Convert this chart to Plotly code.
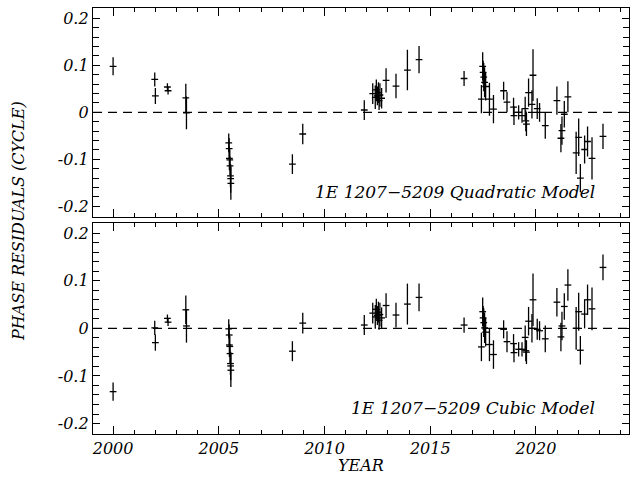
import plotly.graph_objects as go

# ---------------- data ----------------
years = [2000.00, 2001.97, 2002.00, 2002.57, 2002.60, 2003.44, 2003.47,
         2005.47, 2005.49, 2005.50, 2005.52, 2005.53, 2005.55, 2005.56, 2005.57,
         2008.48, 2008.97, 2011.88,
         2012.28, 2012.40, 2012.45, 2012.50, 2012.55, 2012.58, 2012.62, 2012.70,
         2012.91, 2013.38, 2013.92, 2014.47, 2016.60,
         2017.42, 2017.48, 2017.50, 2017.53, 2017.57, 2017.62,
         2017.80, 2017.99, 2018.47, 2018.63, 2018.94, 2018.96, 2019.18, 2019.34,
         2019.49, 2019.52, 2019.55, 2019.65, 2019.81, 2019.86, 2020.06, 2020.17,
         2020.44, 2020.99, 2021.18, 2021.23, 2021.34, 2021.51, 2021.90, 2022.02,
         2022.10, 2022.30, 2022.44, 2022.65, 2023.17]

quadratic_resid = [0.098, 0.070, 0.035, 0.054, 0.046, 0.031, -0.001,
                   -0.065, -0.077, -0.098, -0.101, -0.114, -0.135, -0.141, -0.151,
                   -0.110, -0.046, 0.005,
                   0.040, 0.032, 0.048, 0.035, 0.042, 0.025, 0.037, 0.030,
                   0.068, 0.056, 0.090, 0.112, 0.072,
                   0.028, 0.098, 0.085, 0.075, 0.064, 0.055,
                   0.028, 0.007, 0.046, 0.022, 0.011, -0.007, 0.000, -0.007,
                   0.008, -0.018, -0.025, 0.042, 0.017, 0.079, 0.008, 0.000,
                   -0.028, 0.025, -0.055, -0.039, -0.004, 0.033, -0.086, -0.053,
                   -0.140, -0.079, -0.062, -0.098, -0.051]

cubic_resid = [-0.133, 0.001, -0.030, 0.021, 0.013, 0.039, 0.005,
               -0.001, -0.014, -0.035, -0.038, -0.053, -0.074, -0.079, -0.088,
               -0.048, 0.011, 0.007,
               0.032, 0.024, 0.040, 0.027, 0.034, 0.017, 0.029, 0.022,
               0.048, 0.028, 0.051, 0.065, 0.007,
               -0.039, 0.035, 0.022, 0.012, 0.001, -0.008,
               -0.034, -0.055, -0.002, -0.028, -0.032, -0.051, -0.044, -0.044,
               -0.019, -0.047, -0.050, 0.015, 0.000, 0.060, -0.002, -0.005,
               -0.022, 0.055, -0.018, 0.005, 0.046, 0.091, 0.000, 0.035,
               -0.046, 0.030, 0.060, 0.041, 0.128]

resid_err = [0.019, 0.015, 0.017, 0.008, 0.008, 0.030, 0.035,
             0.020, 0.022, 0.025, 0.022, 0.020, 0.024, 0.030, 0.035,
             0.021, 0.022, 0.021,
             0.022, 0.025, 0.022, 0.020, 0.022, 0.020, 0.025, 0.022,
             0.026, 0.026, 0.043, 0.029, 0.016,
             0.030, 0.030, 0.025, 0.030, 0.032, 0.030,
             0.035, 0.030, 0.019, 0.022, 0.020, 0.020, 0.015, 0.015,
             0.025, 0.022, 0.025, 0.030, 0.030, 0.055, 0.022, 0.020,
             0.028, 0.030, 0.030, 0.030, 0.028, 0.033, 0.045, 0.040,
             0.030, 0.030, 0.032, 0.045, 0.027]

year_halfwidth = 0.16
x_ticks = [2000, 2005, 2010, 2015, 2020]
y_ticks = [-0.2, -0.1, 0, 0.1, 0.2]
y_tick_text = ["-0.2", "-0.1", "0", "0.1", "0.2"]
labels = ["1E 1207\u22125209 Quadratic Model", "1E 1207\u22125209 Cubic Model"]

FONT = "DejaVu Serif"

fig = go.Figure()

def add_panel(yvals, xref, yref):
    fig.add_trace(go.Scatter(
        x=years, y=yvals, mode="markers", xaxis=xref, yaxis=yref,
        marker=dict(size=1, color="rgba(0,0,0,0)"),
        error_y=dict(type="data", array=resid_err, width=0, thickness=1.3, color="black"),
        error_x=dict(type="constant", value=year_halfwidth, width=0, thickness=1.3, color="black"),
        showlegend=False, hoverinfo="skip"))

add_panel(quadratic_resid, "x", "y")
add_panel(cubic_resid, "x2", "y2")

xr = [1999.05, 2024.4]
yr = [-0.222, 0.222]
tickfont = dict(family=FONT, size=16, color="black", style="italic")

common_x = dict(range=xr, showline=True, linewidth=1.3, linecolor="black", mirror="allticks",
                ticks="inside", ticklen=8, tickwidth=1.2, tickcolor="black",
                tickvals=x_ticks, showgrid=False, zeroline=False,
                minor=dict(dtick=1, ticks="inside", ticklen=4, tickwidth=1.1, tickcolor="black", showgrid=False),
                tickfont=tickfont)
common_y = dict(range=yr, showline=True, linewidth=1.3, linecolor="black", mirror="allticks",
                ticks="inside", ticklen=7, tickwidth=1.2, tickcolor="black",
                tickvals=y_ticks, ticktext=y_tick_text, showgrid=False, zeroline=False,
                minor=dict(dtick=0.02, tick0=0, ticks="inside", ticklen=6, tickwidth=1.1, tickcolor="black", showgrid=False),
                tickfont=tickfont)

fig.update_layout(
    width=634, height=478,
    margin=dict(l=93, r=5, t=8, b=44),
    paper_bgcolor="white", plot_bgcolor="white",
    xaxis=dict(**common_x, anchor="y", domain=[0, 1], showticklabels=False),
    yaxis=dict(**common_y, anchor="x", domain=[0.510, 1]),
    xaxis2=dict(**common_x, anchor="y2", domain=[0, 1], showticklabels=True),
    yaxis2=dict(**common_y, anchor="x2", domain=[0, 0.496]),
)

for xref, yref in [("x", "y"), ("x2", "y2")]:
    fig.add_shape(type="line", xref=xref + " domain", yref=yref, x0=0, x1=1, y0=0, y1=0,
                  line=dict(color="black", width=1.2, dash="9px,6px"), layer="below")

fig.add_annotation(text=labels[0], xref="x", yref="y", x=2022.9, y=-0.17,
                   xanchor="right", yanchor="middle", showarrow=False,
                   font=dict(family=FONT, size=17, color="black", style="italic"))
fig.add_annotation(text=labels[1], xref="x2", yref="y2", x=2022.9, y=-0.168,
                   xanchor="right", yanchor="middle", showarrow=False,
                   font=dict(family=FONT, size=17, color="black", style="italic"))

fig.add_annotation(text="PHASE RESIDUALS (CYCLE)", xref="paper", yref="paper",
                   x=-0.14, y=0.5, textangle=-90, showarrow=False,
                   xanchor="center", yanchor="middle",
                   font=dict(family=FONT, size=16, color="black", style="italic"))
fig.add_annotation(text="YEAR", xref="paper", yref="paper", x=0.5, y=-0.074,
                   showarrow=False, xanchor="center", yanchor="middle",
                   font=dict(family=FONT, size=16, color="black", style="italic"))

fig.write_html("out.html")
